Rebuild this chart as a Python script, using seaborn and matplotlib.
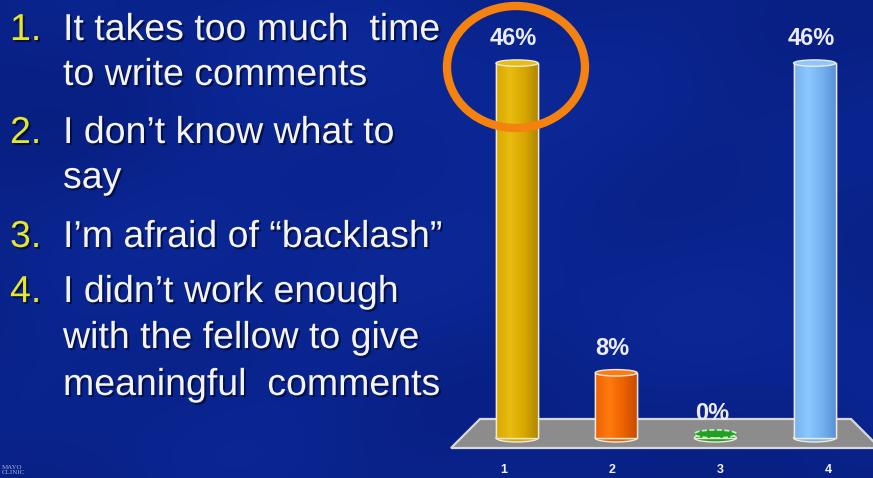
import numpy as np
import matplotlib
matplotlib.use("Agg")
import matplotlib.pyplot as plt
import matplotlib.patheffects as pe
from matplotlib.colors import LinearSegmentedColormap
from matplotlib.patches import Ellipse, Polygon, Rectangle
import seaborn as sns

# Survey answers and their shares
categories = ["1", "2", "3", "4"]
percents = [46, 8, 0, 46]
bar_colors = ["#D9A800", "#EE6200", "#22A022", "#74B2F0"]
bar_light = ["#E8BC10", "#FF7A10", "#40C040", "#8CC8FF"]
bar_dark = ["#B08800", "#C84C00", "#108010", "#5A92D8"]

answer_lines = [
    ("1.", "It takes too much  time"),
    ("", "to write comments"),
    ("2.", "I don\u2019t know what to"),
    ("", "say"),
    ("3.", "I\u2019m afraid of \u201cbacklash\u201d"),
    ("4.", "I didn\u2019t work enough"),
    ("", "with the fellow to give"),
    ("", "meaningful  comments"),
]

W, H = 873, 478
sns.set_theme(style="white")
plt.rcParams["font.family"] = ["Liberation Sans", "DejaVu Sans"]

fig = plt.figure(figsize=(W / 100, H / 100), dpi=100)
ax = fig.add_axes([0, 0, 1, 1])

# pixel -> data mapping of the chart axes
px_per_cat = 99.2
x_origin_px = 517.0
base_px = 438.0
px_per_pct = 8.15
xlim = (-x_origin_px / px_per_cat, (W - x_origin_px) / px_per_cat)
ylim = ((base_px - H) / px_per_pct, base_px / px_per_pct)


def px2x(px):
    return (px - x_origin_px) / px_per_cat


def py2y(py):
    return (base_px - py) / px_per_pct


# mottled blue backdrop
gx, gy = np.meshgrid(np.linspace(0, 1, 300), np.linspace(0, 1, 170))
tex = (0.35 * np.sin(7.0 * gx + 2.3 * gy) * np.cos(5.5 * gy - 1.1)
       + 0.25 * np.sin(13.0 * gy + 4.0 * gx + 0.7)
       + 0.2 * np.cos(17.0 * gx - 9.0 * gy + 1.9))
shade = 0.55 + 0.15 * tex - 0.25 * ((gx - 0.55) ** 2 + (gy - 0.55) ** 2)
bg_cmap = LinearSegmentedColormap.from_list("bg", ["#05156A", "#0A2590", "#1036B0"])
ax.imshow(shade, extent=[xlim[0], xlim[1], ylim[0], ylim[1]], origin="lower",
          cmap=bg_cmap, vmin=0.1, vmax=0.95, aspect="auto", zorder=0,
          interpolation="bicubic")

# grey floor in perspective
floor = Polygon([[px2x(451), py2y(448)], [px2x(480), py2y(419)],
                 [px2x(851), py2y(419)], [px2x(880), py2y(448)]],
                closed=True, facecolor="#8C8C8C", edgecolor="#D8D8D8",
                linewidth=1.6, zorder=1)
ax.add_patch(floor)

bar_width = 42 / px_per_cat
sns.barplot(x=categories, y=percents, hue=categories, palette=bar_colors,
            order=categories, width=bar_width, legend=False, ax=ax,
            edgecolor="#F0E8D8", linewidth=1.0, zorder=3)

cap_h = 8 / px_per_pct
grad = np.linspace(0, 1, 64).reshape(1, -1)

bars = [p for p in ax.patches if isinstance(p, Rectangle)]
for i, patch in enumerate(bars):
    x0 = patch.get_x()
    w = patch.get_width()
    h = patch.get_height()
    cx = x0 + w / 2
    # rounded bottom of the cylinder
    ax.add_patch(Ellipse((cx, 0), w, cap_h, facecolor=bar_colors[i],
                         edgecolor="#F0E8D8", linewidth=1.0, zorder=2.5))
    if h > 0:
        cm = LinearSegmentedColormap.from_list(
            f"cyl{i}", [bar_colors[i], bar_light[i], bar_colors[i], bar_dark[i]])
        im = ax.imshow(grad, extent=[x0, x0 + w, 0, h], cmap=cm, aspect="auto",
                       zorder=3.2, interpolation="bilinear")
        im.set_clip_path(patch)
        ax.add_patch(Rectangle((x0, 0), w, h, fill=False, edgecolor="#F0E8D8",
                               linewidth=1.0, zorder=3.3))
        ax.add_patch(Ellipse((cx, h), w, cap_h * 0.8, facecolor=bar_light[i],
                             edgecolor="#F0E8D8", linewidth=1.0, zorder=3.4))
    else:
        ax.add_patch(Ellipse((cx, 0.5), w, cap_h, facecolor=bar_colors[i],
                             edgecolor="#C8F0C8", linewidth=1.2,
                             linestyle=(0, (3, 1.5)), zorder=3.4))
    ax.text(cx - 0.035, h + 3.0, f"{percents[i]}%", ha="center", va="center",
            fontsize=17, fontweight="bold", color="#ECECF8", zorder=5)

# category numbers along the front edge of the floor
persp = 1.09
for i, lab in enumerate(categories):
    tx = 1.5 + (i - 1.5) * persp
    ax.text(tx, py2y(470), lab, ha="center", va="center", fontsize=9,
            fontweight="bold", color="#F0F0F0", zorder=5)

ax.set_xlim(*xlim)
ax.set_ylim(*ylim)
ax.axis("off")

# answer list on the left
shadow = [pe.SimplePatchShadow(offset=(1.5, -1.5), shadow_rgbFace="#000830", alpha=0.7),
          pe.Normal()]
baselines = [40, 85, 143, 188, 247, 302, 348, 395]
for (num, line), yb in zip(answer_lines, baselines):
    if num:
        fig.text(10 / W, 1 - yb / H, num, fontsize=27, color="#E6E62A",
                 va="baseline", ha="left", path_effects=shadow)
    fig.text(63 / W, 1 - yb / H, line, fontsize=27, color="#F4F4F4",
             va="baseline", ha="left", path_effects=shadow)

# clinic mark in the corner
fig.text(2 / W, 1 - 474 / H, "MAYO\nCLINIC", fontsize=5, color="#A8B0D8",
         family="Liberation Serif", va="baseline", ha="left", linespacing=0.9)

# highlight ring around the first answer's bar label
ring = Ellipse((516 / W, 1 - 67 / H), 138 / W, 122 / H, transform=fig.transFigure,
               fill=False, edgecolor="#F5820F", linewidth=6, zorder=10)
fig.patches.append(ring)

fig.savefig("out.png", dpi=100)
